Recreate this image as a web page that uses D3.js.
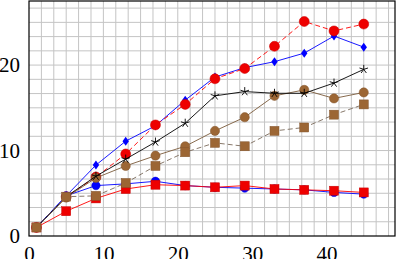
<!DOCTYPE html>
<html>
<head>
<meta charset="utf-8">
<script src="https://cdn.jsdelivr.net/npm/d3@7"></script>
<style>
  body { margin: 0; background: #fff; }
  .tick text { font-family: "Liberation Serif", "DejaVu Serif", serif; }
</style>
</head>
<body>
<div id="chart"></div>
<script>
// x positions shared by all series
var xs = [1, 5, 9, 13, 17, 21, 25, 29, 33, 37, 41, 45];

// series values
var blueDiamond = [1, 4.7, 8.3, 11.1, 12.9, 15.9, 18.6, 19.7, 20.4, 21.4, 23.4, 22.1];
var redCircle   = [1, 4.6, 6.9, 9.6, 13.0, 15.4, 18.4, 19.6, 22.2, 25.1, 24.0, 24.8];
var blackStar   = [1, 4.6, 7.0, 9.0, 11.0, 13.2, 16.4, 16.9, 16.7, 16.7, 17.9, 19.5];
var brownCircle = [1, 4.5, 6.8, 8.2, 9.4, 10.5, 12.3, 13.9, 16.4, 17.1, 16.1, 16.8];
var brownSquare = [1, 4.6, 4.7, 6.2, 8.2, 9.8, 10.9, 10.5, 12.3, 12.7, 14.2, 15.4];
var blueCircle  = [1, 4.7, 5.9, 6.1, 6.4, 5.9, 5.7, 5.6, 5.5, 5.4, 5.1, 4.9];
var redSquare   = [1, 2.9, 4.4, 5.5, 6.0, 5.9, 5.7, 5.9, 5.5, 5.4, 5.3, 5.1];

var xTicks = [0, 10, 20, 30, 40];
var yTicks = [0, 10, 20];

var W = 397, H = 259;
var margin = {top: 1, right: 2, bottom: 23, left: 29};
var width = W - margin.left - margin.right;
var height = H - margin.top - margin.bottom;

var svg = d3.select("#chart").append("svg")
  .attr("width", W).attr("height", H);
var g = svg.append("g")
  .attr("transform", "translate(" + margin.left + "," + margin.top + ")");

var x = d3.scaleLinear().domain([0, 49.2]).range([0, width]);
var y = d3.scaleLinear().domain([0, 27.5]).range([height, 0]);

// minor grid (5 minor ticks between majors)
var step = 10 / 6;
var gx = d3.range(step, 49.2, step);
var gy = d3.range(step, 27.5, step);
g.append("g").selectAll("line").data(gx).enter().append("line")
  .attr("x1", d => x(d)).attr("x2", d => x(d))
  .attr("y1", 0).attr("y2", height)
  .attr("stroke", "#c4c4c4").attr("stroke-width", 1);
g.append("g").selectAll("line").data(gy).enter().append("line")
  .attr("y1", d => y(d)).attr("y2", d => y(d))
  .attr("x1", 0).attr("x2", width)
  .attr("stroke", "#c4c4c4").attr("stroke-width", 1);

// axes
var xAxis = g.append("g")
  .attr("transform", "translate(0," + height + ")")
  .call(d3.axisBottom(x).tickValues(xTicks).tickSize(0).tickPadding(10));
var yAxis = g.append("g")
  .call(d3.axisLeft(y).tickValues(yTicks).tickSize(0).tickPadding(9));
[xAxis, yAxis].forEach(function(a) {
  a.select(".domain").remove();
  a.selectAll("text").style("font-size", "21px").attr("fill", "#000");
});

var line = d3.line()
  .x(function(d, i) { return x(xs[i]); })
  .y(function(d) { return y(d); });

var brown = "#9c6634";
var series = [
  {v: blueDiamond, color: "#0000ff", dash: null, mark: "diamond", fill: "#0000ff"},
  {v: redCircle, color: "#ff0000", dash: "5,3", mark: "circle", r: 5, fill: "#ee0000"},
  {v: blueCircle, color: "#0000ff", dash: null, mark: "circle", r: 4.2, fill: "#0000ff"},
  {v: redSquare, color: "#ff0000", dash: null, mark: "square", s: 9, fill: "#ee0000"},
  {v: brownCircle, color: "#7a5a3a", dash: null, mark: "circle", r: 4.6, fill: brown},
  {v: blackStar, color: "#000", dash: null, mark: "star", fill: "none"},
  {v: brownSquare, color: "#7a6a5a", dash: "5,3", mark: "square", s: 9, fill: brown}
];

series.forEach(function(s) {
  g.append("path").datum(s.v)
    .attr("d", line)
    .attr("fill", "none")
    .attr("stroke", s.color)
    .attr("stroke-width", 0.9)
    .attr("stroke-dasharray", s.dash);

  var m = g.append("g").selectAll("g").data(s.v).enter().append("g")
    .attr("transform", function(d, i) { return "translate(" + x(xs[i]) + "," + y(d) + ")"; });
  if (s.mark === "circle") {
    m.append("circle").attr("r", s.r).attr("fill", s.fill)
      .attr("stroke", d3.color(s.fill).darker(0.5)).attr("stroke-width", 0.5);
  } else if (s.mark === "square") {
    m.append("rect").attr("x", -s.s / 2).attr("y", -s.s / 2)
      .attr("width", s.s).attr("height", s.s).attr("fill", s.fill)
      .attr("stroke", d3.color(s.fill).darker(0.5)).attr("stroke-width", 0.5);
  } else if (s.mark === "diamond") {
    m.append("path").attr("d", "M0,-4.5L3.2,0L0,4.5L-3.2,0Z").attr("fill", s.fill);
  } else if (s.mark === "star") {
    var p = "";
    for (var k = 0; k < 5; k++) {
      var a = -Math.PI / 2 + k * 2 * Math.PI / 5;
      p += "M0,0L" + (4.5 * Math.cos(a)).toFixed(2) + "," + (4.5 * Math.sin(a)).toFixed(2);
    }
    m.append("path").attr("d", p).attr("stroke", "#000").attr("stroke-width", 0.9).attr("fill", "none");
  }
});

// frame
g.append("rect")
  .attr("x", 0).attr("y", 0).attr("width", width).attr("height", height)
  .attr("fill", "none").attr("stroke", "#000").attr("stroke-width", 1.2);
</script>
</body>
</html>
